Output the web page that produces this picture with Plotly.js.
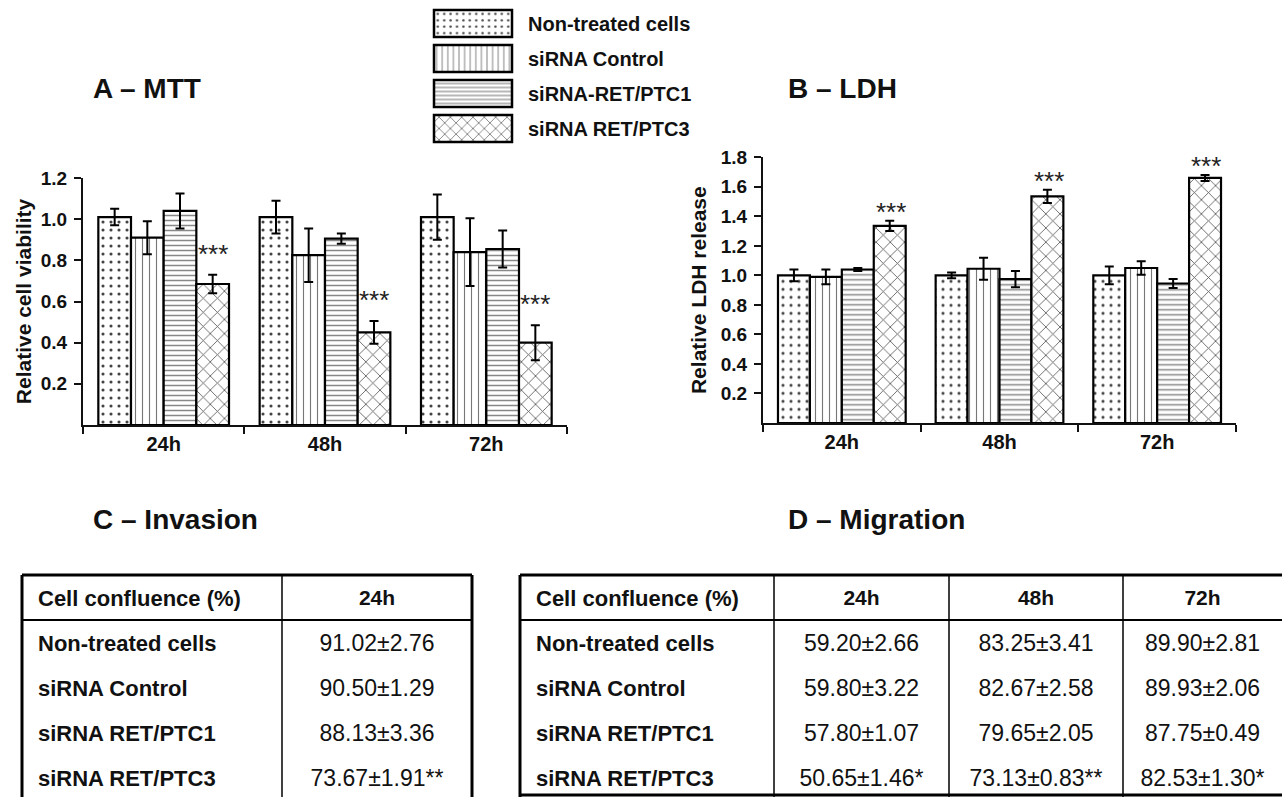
<!DOCTYPE html>
<html><head><meta charset="utf-8">
<script src="https://cdn.plot.ly/plotly-3.0.1.min.js"></script>
<style>html,body{margin:0;padding:0;background:#fff}#chart{width:1282px;height:797px}
.scrollbar-kit{display:none}</style>
</head><body><div id="chart"></div>
<script>
// ---------- data ----------
const categories = ['24h', '48h', '72h'];
const seriesNames = ['Non-treated cells', 'siRNA Control', 'siRNA-RET/PTC1', 'siRNA RET/PTC3'];

// A - MTT (relative cell viability)
const mttNonTreated = [1.01, 1.01, 1.01];
const mttNonTreatedErr = [0.04, 0.08, 0.11];
const mttControl = [0.91, 0.825, 0.84];
const mttControlErr = [0.08, 0.13, 0.165];
const mttPTC1 = [1.04, 0.905, 0.855];
const mttPTC1Err = [0.085, 0.025, 0.09];
const mttPTC3 = [0.685, 0.45, 0.40];
const mttPTC3Err = [0.045, 0.055, 0.085];
const mttSig = ['***', '***', '***'];

// B - LDH (relative LDH release)
const ldhNonTreated = [1.0, 1.0, 1.0];
const ldhNonTreatedErr = [0.04, 0.02, 0.06];
const ldhControl = [0.99, 1.045, 1.05];
const ldhControlErr = [0.05, 0.075, 0.045];
const ldhPTC1 = [1.04, 0.975, 0.945];
const ldhPTC1Err = [0.01, 0.055, 0.03];
const ldhPTC3 = [1.335, 1.535, 1.66];
const ldhPTC3Err = [0.035, 0.045, 0.02];
const ldhSig = ['***', '***', '***'];

// C - Invasion / D - Migration tables
const tableRowLabels = ['Non-treated cells', 'siRNA Control', 'siRNA RET/PTC1', 'siRNA RET/PTC3'];
const tableHeaderLabel = 'Cell confluence (%)';
const invasion24Mean = [91.02, 90.50, 88.13, 73.67];
const invasion24SD = [2.76, 1.29, 3.36, 1.91];
const invasion24Sig = ['', '', '', '**'];
const migration24Mean = [59.20, 59.80, 57.80, 50.65];
const migration24SD = [2.66, 3.22, 1.07, 1.46];
const migration24Sig = ['', '', '', '*'];
const migration48Mean = [83.25, 82.67, 79.65, 73.13];
const migration48SD = [3.41, 2.58, 2.05, 0.83];
const migration48Sig = ['', '', '', '**'];
const migration72Mean = [89.90, 89.93, 87.75, 82.53];
const migration72SD = [2.81, 2.06, 0.49, 1.30];
const migration72Sig = ['', '', '', '*'];

// ---------- helpers / styles ----------
const W = 1282, H = 797;
const px = x => x / W;
const py = y => 1 - y / H;
const FONT = 'Liberation Sans, Arial, sans-serif';

const patterns = [
  {shape: '.', fgcolor: '#444', bgcolor: '#fff', size: 8, solidity: 0.12},
  {shape: '|', fgcolor: '#777', bgcolor: '#fff', size: 7, solidity: 0.16},
  {shape: '-', fgcolor: '#888', bgcolor: '#fff', size: 5, solidity: 0.3},
  {shape: 'x', fgcolor: '#555', bgcolor: '#fff', size: 10, solidity: 0.16}
];

function barTrace(i, y, err, xa, ya, showLegend) {
  return {
    type: 'bar', name: seriesNames[i], x: categories, y: y,
    xaxis: xa, yaxis: ya, legendgroup: 'g' + i, showlegend: showLegend,
    marker: {color: '#fff', line: {color: '#000', width: 2.2}, pattern: patterns[i]},
    error_y: {type: 'data', array: err, visible: true, color: '#000', thickness: 2, width: 4.5},
    hoverinfo: 'skip'
  };
}

const mttSeries = [[mttNonTreated, mttNonTreatedErr], [mttControl, mttControlErr], [mttPTC1, mttPTC1Err], [mttPTC3, mttPTC3Err]];
const ldhSeries = [[ldhNonTreated, ldhNonTreatedErr], [ldhControl, ldhControlErr], [ldhPTC1, ldhPTC1Err], [ldhPTC3, ldhPTC3Err]];

const traces = [];
mttSeries.forEach((s, i) => traces.push(barTrace(i, s[0], s[1], 'x', 'y', true)));
ldhSeries.forEach((s, i) => traces.push(barTrace(i, s[0], s[1], 'x2', 'y2', false)));

const fmt = (m, s, g) => m.map((v, k) => v.toFixed(2) + '\u00b1' + s[k].toFixed(2) + g[k]);

const cellFont = {family: FONT, size: [22, 23, 23, 23], color: '#111', weight: ['bold', 'normal', 'normal', 'normal']};
const hdrFont = {family: FONT, size: [22, 21, 21, 21], color: '#111', weight: 'bold'};
const noLine = {color: 'rgba(0,0,0,0)', width: 0};
const noFill = {color: 'rgba(0,0,0,0)'};

traces.push({
  type: 'table',
  domain: {x: [px(30), px(472)], y: [0, py(581)]},
  columnwidth: [252, 190],
  header: {values: [tableHeaderLabel, categories[0]], align: ['left', 'center'], height: 45,
           font: hdrFont, fill: noFill, line: noLine},
  cells: {values: [tableRowLabels, fmt(invasion24Mean, invasion24SD, invasion24Sig)],
          align: ['left', 'center'], height: 45, font: cellFont, fill: noFill, line: noLine}
});
traces.push({
  type: 'table',
  domain: {x: [px(528), 1], y: [0, py(581)]},
  columnwidth: [246, 175, 174, 159],
  header: {values: [tableHeaderLabel].concat(categories), align: ['left', 'center', 'center', 'center'], height: 45,
           font: hdrFont, fill: noFill, line: noLine},
  cells: {values: [tableRowLabels,
                   fmt(migration24Mean, migration24SD, migration24Sig),
                   fmt(migration48Mean, migration48SD, migration48Sig),
                   fmt(migration72Mean, migration72SD, migration72Sig)],
          align: ['left', 'center', 'center', 'center'], height: 45, font: cellFont, fill: noFill, line: noLine}
});

// significance marks above the siRNA RET/PTC3 bars
const annotations = [];
categories.forEach((c, k) => {
  annotations.push({xref: 'x', yref: 'y', x: c, y: mttPTC3[k] + mttPTC3Err[k], xshift: 49, yshift: 4,
    yanchor: 'bottom', text: mttSig[k], showarrow: false, font: {family: FONT, size: 26, color: '#222'}});
  annotations.push({xref: 'x2', yref: 'y2', x: c, y: ldhPTC3[k] + ldhPTC3Err[k], xshift: 49, yshift: -8,
    yanchor: 'bottom', text: ldhSig[k], showarrow: false, font: {family: FONT, size: 26, color: '#222'}});
});
const panelTitle = (t, x, y) => ({xref: 'paper', yref: 'paper', x: px(x), y: py(y), xanchor: 'left', yanchor: 'middle',
  text: t, showarrow: false, font: {family: FONT, size: 28, color: '#111', weight: 'bold'}});
annotations.push(panelTitle('A \u2013 MTT', 91, 89));
annotations.push(panelTitle('B \u2013 LDH', 786, 89));
annotations.push(panelTitle('C \u2013 Invasion', 91, 519));
annotations.push(panelTitle('D \u2013 Migration', 786, 519));

// table rules (outer frame, header rule, column dividers)
const rule = (x0, y0, x1, y1, w) => ({type: 'line', xref: 'paper', yref: 'paper', x0: px(x0), y0: py(y0), x1: px(x1), y1: py(y1),
  line: {color: '#000', width: w}, layer: 'above'});
const shapes = [
  rule(22, 575, 472, 575, 3), rule(22, 575, 22, 797, 3), rule(472, 575, 472, 797, 3),
  rule(22, 620, 472, 620, 2), rule(282, 575, 282, 797, 1.5),
  rule(520, 575, 1282, 575, 3), rule(520, 575, 520, 797, 3), rule(520, 795, 1282, 795, 3),
  rule(520, 620, 1282, 620, 2), rule(774, 575, 774, 797, 1.5), rule(949, 575, 949, 797, 1.5), rule(1123, 575, 1123, 797, 1.5)
];

const tickFont = {family: FONT, size: 19, color: '#111', weight: 'bold'};
const xAxisBase = {type: 'category', tickson: 'boundaries', ticks: 'outside', ticklen: 7, tickwidth: 2, tickcolor: '#111',
  showline: true, linewidth: 2, linecolor: '#111', showgrid: false, zeroline: false,
  tickfont: {family: FONT, size: 20, color: '#111', weight: 'bold'}, fixedrange: true};
const yAxisBase = {ticks: 'outside', ticklen: 7, tickwidth: 2, tickcolor: '#111', showline: true, linewidth: 2, linecolor: '#111',
  showgrid: false, zeroline: false, tickfont: tickFont, tickformat: '.1f', ticklabelstandoff: 3, fixedrange: true};

const layout = {
  width: W, height: H, margin: {l: 0, r: 0, t: 0, b: 0}, paper_bgcolor: '#fff', plot_bgcolor: 'rgba(0,0,0,0)',
  barmode: 'group', bargap: 0.19, bargroupgap: 0,
  font: {family: FONT, color: '#111'},
  xaxis: Object.assign({}, xAxisBase, {domain: [px(83), px(567)], anchor: 'y'}),
  yaxis: Object.assign({}, yAxisBase, {domain: [py(425), py(178)], anchor: 'x', range: [0, 1.2],
    tickvals: [0.2, 0.4, 0.6, 0.8, 1.0, 1.2],
    title: {text: 'Relative cell viability', standoff: 3, font: {family: FONT, size: 21, color: '#111', weight: 'bold'}}}),
  xaxis2: Object.assign({}, xAxisBase, {domain: [px(763), px(1236)], anchor: 'y2'}),
  yaxis2: Object.assign({}, yAxisBase, {domain: [py(423), py(157.3)], anchor: 'x2', range: [0, 1.8],
    tickvals: [0.2, 0.4, 0.6, 0.8, 1.0, 1.2, 1.4, 1.6, 1.8],
    title: {text: 'Relative LDH release', standoff: 8, font: {family: FONT, size: 21, color: '#111', weight: 'bold'}}}),
  showlegend: true,
  legend: {x: px(428), y: py(4), xanchor: 'left', yanchor: 'top', orientation: 'v', traceorder: 'grouped',
    tracegroupgap: 6, itemwidth: 90, bgcolor: 'rgba(0,0,0,0)',
    font: {family: FONT, size: 20, color: '#111', weight: 'bold'}},
  annotations: annotations,
  shapes: shapes
};

Plotly.newPlot('chart', traces, layout, {staticPlot: true, displayModeBar: false}).then(gd => {
  // enlarge legend swatches to match the reference key boxes
  gd.querySelectorAll('.legend [clip-path]').forEach(el => el.removeAttribute('clip-path'));
  gd.querySelectorAll('.legend .traces').forEach(item => {
    const t = item.querySelector('text.legendtext');
    const p = item.querySelector('.legendpoints path');
    if (!t || !p) return;
    const tx = parseFloat(t.getAttribute('x')) || 40;
    p.setAttribute('d', 'M-39,-13.5H39V13.5H-39Z');
    p.setAttribute('transform', 'translate(' + (tx - 16 - 39) + ',0)');
    p.style.strokeWidth = '2.5px';
    p.style.stroke = '#000';
  });
});
</script>
</body></html>
